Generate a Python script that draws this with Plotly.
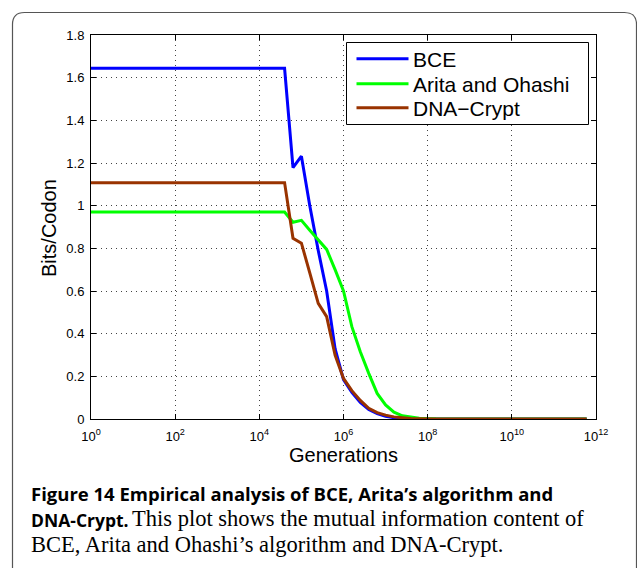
import plotly.graph_objects as go

# ---------------- data ----------------
generations = [1, 3.98e4, 6.31e4, 1.0e5, 1.58e5, 2.51e5, 3.98e5, 6.31e5, 1.0e6,
               1.58e6, 2.51e6, 3.98e6, 6.31e6, 1.0e7, 1.58e7, 2.51e7, 3.98e7,
               6.31e7, 1.0e8, 1.58e8, 6.0e11]
bce = [1.644, 1.644, 1.178, 1.232, 1.00, 0.79, 0.60, 0.33, 0.185, 0.125, 0.078,
       0.045, 0.025, 0.013, 0.006, 0.003, 0.001, 0, 0, 0, 0]
arita = [0.970, 0.970, 0.922, 0.931, 0.885, 0.840, 0.795, 0.70, 0.60, 0.433,
         0.315, 0.214, 0.12, 0.066, 0.032, 0.015, 0.008, 0.004, 0.002, 0.001, 0]
dnacrypt = [1.108, 1.108, 0.847, 0.824, 0.685, 0.542, 0.48, 0.30, 0.19, 0.133,
            0.087, 0.05, 0.03, 0.018, 0.01, 0.005, 0.002, 0.001, 0, 0, 0]
series_names = ["BCE", "Arita and Ohashi", "DNA\u2212Crypt"]
series_colors = ["#0000ff", "#00ff00", "#993300"]
x_tick_exponents = [0, 2, 4, 6, 8, 10, 12]
y_ticks = [0, 0.2, 0.4, 0.6, 0.8, 1.0, 1.2, 1.4, 1.6, 1.8]
x_title = "Generations"
y_title = "Bits/Codon"
caption_line1 = "Figure 14 Empirical analysis of BCE, Arita\u2019s algorithm and"
caption_line2_bold = "DNA-Crypt."
caption_line2_rest = "This plot shows the mutual information content of"
caption_line3 = "BCE, Arita and Ohashi\u2019s algorithm and DNA-Crypt."

# ---------------- layout geometry (pixels) ----------------
W, H = 637, 568
L, R, T, B = 91, 596, 35, 419


def px(x):
    return (x - L) / (R - L)


def py(y):
    return (B - y) / (B - T)


fig = go.Figure()
for name, vals, col in zip(series_names, [bce, arita, dnacrypt], series_colors):
    fig.add_trace(go.Scatter(x=generations, y=vals, mode="lines", name=name,
                             line=dict(color=col, width=3), showlegend=False,
                             hoverinfo="skip"))

axis_common = dict(
    showline=True, linecolor="black", linewidth=1, mirror="ticks",
    ticks="inside", ticklen=5, tickcolor="black", tickwidth=1,
    showgrid=True, gridcolor="#444444", griddash="1px,4px", gridwidth=1,
    zeroline=False,
    tickfont=dict(family="Liberation Sans", size=13, color="black"),
)

fig.update_xaxes(type="log", range=[0, 12],
                 tickvals=[10 ** e for e in x_tick_exponents],
                 ticktext=["10<sup>%d</sup>" % e for e in x_tick_exponents],
                 ticklabelstandoff=5,
                 **axis_common)
fig.update_yaxes(range=[0, 1.8], tickvals=y_ticks,
                 ticktext=[("%g" % v) for v in y_ticks],
                 ticklabelstandoff=3,
                 **axis_common)

shapes = []
# outer rounded frame
fx0, fx1, fy0, r = 12.5, 636.5, 12.5, 12
frame_path = ("M {a},{b} L {a},{c} Q {a},{d} {e},{d} L {f},{d} Q {g},{d} {g},{c} L {g},{b}"
              .format(a=px(fx0), b=py(600), c=py(fy0 + r), d=py(fy0),
                      e=px(fx0 + r), f=px(fx1 - r), g=px(fx1)))
shapes.append(dict(type="path", xref="paper", yref="paper", path=frame_path,
                   line=dict(color="#555555", width=1.2)))

# legend box
shapes.append(dict(type="rect", xref="paper", yref="paper",
                   x0=px(346.5), x1=px(588.5), y0=py(124.5), y1=py(42.5),
                   line=dict(color="black", width=1), fillcolor="white",
                   layer="above"))
annotations = []
leg_y = [58.7, 83.7, 107.7]
for name, col, yy in zip(series_names, series_colors, leg_y):
    shapes.append(dict(type="line", xref="paper", yref="paper",
                       x0=px(356.5), x1=px(408.5), y0=py(yy), y1=py(yy),
                       line=dict(color=col, width=3), layer="above"))
    annotations.append(dict(xref="paper", yref="paper", x=px(411), y=py(yy + 0.5),
                            xanchor="left", yanchor="middle", showarrow=False,
                            text=name,
                            font=dict(family="Liberation Sans", size=21, color="black")))

# axis titles
annotations.append(dict(xref="paper", yref="paper", x=px(343), y=py(455),
                        xanchor="center", yanchor="middle", showarrow=False,
                        text=x_title,
                        font=dict(family="Liberation Sans", size=20, color="black")))
annotations.append(dict(xref="paper", yref="paper", x=px(49), y=py(228),
                        xanchor="center", yanchor="middle", showarrow=False,
                        textangle=-90, text=y_title,
                        font=dict(family="Liberation Sans", size=20, color="black")))

# caption
bold_font1 = dict(family="Open Sans", size=18.5, color="black")
bold_font2 = dict(family="Open Sans", size=17.5, color="black")
serif_font = dict(family="Liberation Serif", size=22.5, color="black")
annotations.append(dict(xref="paper", yref="paper", x=px(29), y=py(493),
                        xanchor="left", yanchor="middle", showarrow=False,
                        text="<b>" + caption_line1 + "</b>", font=bold_font1))
annotations.append(dict(xref="paper", yref="paper", x=px(29), y=py(519.5),
                        xanchor="left", yanchor="middle", showarrow=False,
                        text="<b>" + caption_line2_bold + "</b>", font=bold_font2))
annotations.append(dict(xref="paper", yref="paper", x=px(130), y=py(518.5),
                        xanchor="left", yanchor="middle", showarrow=False,
                        text=caption_line2_rest, font=serif_font))
annotations.append(dict(xref="paper", yref="paper", x=px(29), y=py(544.5),
                        xanchor="left", yanchor="middle", showarrow=False,
                        text=caption_line3, font=serif_font))

fig.update_layout(
    width=W, height=H,
    margin=dict(l=L, r=W - R, t=T, b=H - B, pad=0),
    paper_bgcolor="white", plot_bgcolor="white",
    shapes=shapes, annotations=annotations,
    showlegend=False, hovermode=False,
)

fig.write_html("out.html", config={"displayModeBar": False},
               post_script="document.body.style.margin='0px';")
